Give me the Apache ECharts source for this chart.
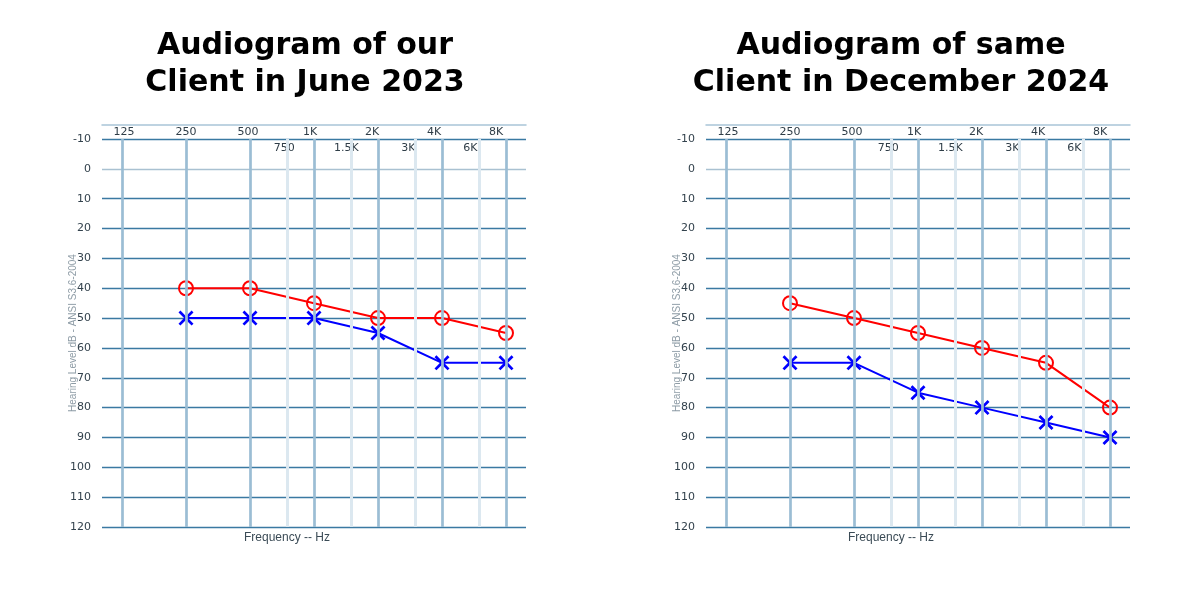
<!DOCTYPE html>
<html>
<head>
<meta charset="utf-8">
<script src="https://cdn.jsdelivr.net/npm/echarts@6/dist/echarts.min.js"></script>
<style>
  html, body { margin: 0; padding: 0; background: #fff; }
  #chart { width: 1200px; height: 600px; }
</style>
</head>
<body>
<div id="chart"></div>
<script>
// frequencies (Hz) tested on each audiogram
var freqs = [250, 500, 1000, 2000, 4000, 8000];

// June 2023
var juneRight = [40, 40, 45, 50, 50, 55];   // red O
var juneLeft  = [50, 50, 50, 55, 65, 65];   // blue X

// December 2024
var decRight = [45, 50, 55, 60, 65, 80];
var decLeft  = [65, 65, 75, 80, 85, 90];

// axis labels
var octaveFreqs  = [125, 250, 500, 1000, 2000, 4000, 8000];
var octaveLabels = ['125', '250', '500', '1K', '2K', '4K', '8K'];
var halfFreqs    = [750, 1500, 3000, 6000];
var halfLabels   = ['750', '1.5K', '3K', '6K'];
var titles = ['Audiogram of our\nClient in June 2023', 'Audiogram of same\nClient in December 2024'];

function lg(f) { return Math.log2(f / 125); }
function pairs(vals) { return freqs.map(function (f, i) { return [lg(f), vals[i]]; }); }
function labelFor(list, labels) {
  return function (v) {
    for (var i = 0; i < list.length; i++) if (Math.abs(lg(list[i]) - v) < 0.01) return labels[i];
    return '';
  };
}

var chart = echarts.init(document.getElementById('chart'));

var grids = [], xAxes = [], yAxes = [], series = [], titleList = [];
var lefts = [102, 706];
var titleX = [300, 896];
var datasets = [[juneRight, juneLeft], [decRight, decLeft]];
// filled X shape
var Xsym = 'path://M0,1.3L1.3,0L5,3.7L8.7,0L10,1.3L6.3,5L10,8.7L8.7,10L5,6.3L1.3,10L0,8.7L3.7,5Z';
var splitColors = ['#3a79a2', '#a9c1d1', '#3a79a2', '#3a79a2', '#3a79a2', '#3a79a2', '#3a79a2',
  '#3a79a2', '#3a79a2', '#3a79a2', '#3a79a2', '#3a79a2', '#3a79a2', '#3a79a2'];

for (var g = 0; g < 2; g++) {
  grids.push({ left: lefts[g], width: 424, top: 139, height: 388 });
  titleList.push({
    text: titles[g], left: titleX[g], top: 23, textAlign: 'center',
    textStyle: { fontFamily: 'DejaVu Sans', fontWeight: 'bold', fontSize: 30, lineHeight: 37, color: '#000' }
  });
  // main frequency axis (log2 scale)
  xAxes.push({
    type: 'value', gridIndex: g, min: -0.3125, max: 6.3125,
    axisLine: { show: false }, axisTick: { show: false }, axisLabel: { show: false }, splitLine: { show: false },
    name: 'Frequency -- Hz', nameLocation: 'middle', nameGap: 5, nameMoveOverlap: false,
    nameTextStyle: { color: '#3b4b56', fontSize: 12, fontFamily: 'Liberation Sans Narrow, Liberation Sans', padding: [0, 54, 0, 0] }
  });
  // top octave labels
  xAxes.push({
    type: 'value', gridIndex: g, position: 'top', offset: 14,
    min: -22 / 62, max: 402 / 62,
    axisLine: { show: true, lineStyle: { color: '#a9c5d8', width: 1.5 } },
    axisTick: { show: false }, splitLine: { show: false },
    axisLabel: {
      inside: true, margin: 2, customValues: octaveFreqs.map(lg),
      formatter: labelFor(octaveFreqs, octaveLabels),
      color: '#2f3d47', fontSize: 11, fontFamily: 'DejaVu Sans'
    }
  });
  // second row: half-octave labels
  xAxes.push({
    type: 'value', gridIndex: g, position: 'top', offset: 0,
    min: -22 / 62, max: 402 / 62,
    axisLine: { show: false }, axisTick: { show: false }, splitLine: { show: false },
    axisLabel: {
      inside: true, margin: 4, customValues: halfFreqs.map(lg),
      formatter: labelFor(halfFreqs, halfLabels),
      color: '#2f3d47', fontSize: 11, fontFamily: 'DejaVu Sans'
    }
  });
  yAxes.push({
    type: 'value', gridIndex: g, inverse: true, min: -10, max: 120, interval: 10,
    axisLine: { show: false }, axisTick: { show: false },
    axisLabel: { color: '#33424d', fontSize: 11, fontFamily: 'DejaVu Sans', margin: 11 },
    splitLine: { lineStyle: { color: splitColors, width: 1.3 } },
    name: 'Hearing Level dB - ANSI S3.6-2004', nameLocation: 'middle', nameGap: 24, nameMoveOverlap: false,
    nameTextStyle: { color: '#8e9ca6', fontSize: 10, fontFamily: 'Liberation Sans Narrow, Liberation Sans' }
  });

  var xi = g * 3;
  // vertical grid lines
  series.push({
    type: 'line', xAxisIndex: xi, yAxisIndex: g, data: [], silent: true, z: 1,
    markLine: {
      silent: true, symbol: 'none', label: { show: false }, animation: false,
      data: octaveFreqs.map(function (f) {
        return { xAxis: lg(f), lineStyle: { color: '#9bbdd4', width: 2.7, type: 'solid' } };
      }).concat(halfFreqs.map(function (f) {
        return { xAxis: lg(f), lineStyle: { color: '#dce8f0', width: 3, type: 'solid' } };
      }))
    }
  });
  series.push({
    type: 'line', xAxisIndex: xi, yAxisIndex: g, data: pairs(datasets[g][0]), z: 3,
    symbol: 'circle', symbolSize: 14,
    lineStyle: { color: '#ff0000', width: 2 },
    itemStyle: { color: 'rgba(0,0,0,0)', borderColor: '#ff0000', borderWidth: 2 }
  });
  series.push({
    type: 'line', xAxisIndex: xi, yAxisIndex: g, data: pairs(datasets[g][1]), z: 4,
    symbol: Xsym, symbolSize: 15,
    lineStyle: { color: '#0000ff', width: 2 },
    itemStyle: { color: '#0000ff', borderWidth: 0 }
  });
}

chart.setOption({
  backgroundColor: '#ffffff',
  animation: false,
  title: titleList,
  grid: grids,
  xAxis: xAxes,
  yAxis: yAxes,
  series: series
});
</script>
</body>
</html>
